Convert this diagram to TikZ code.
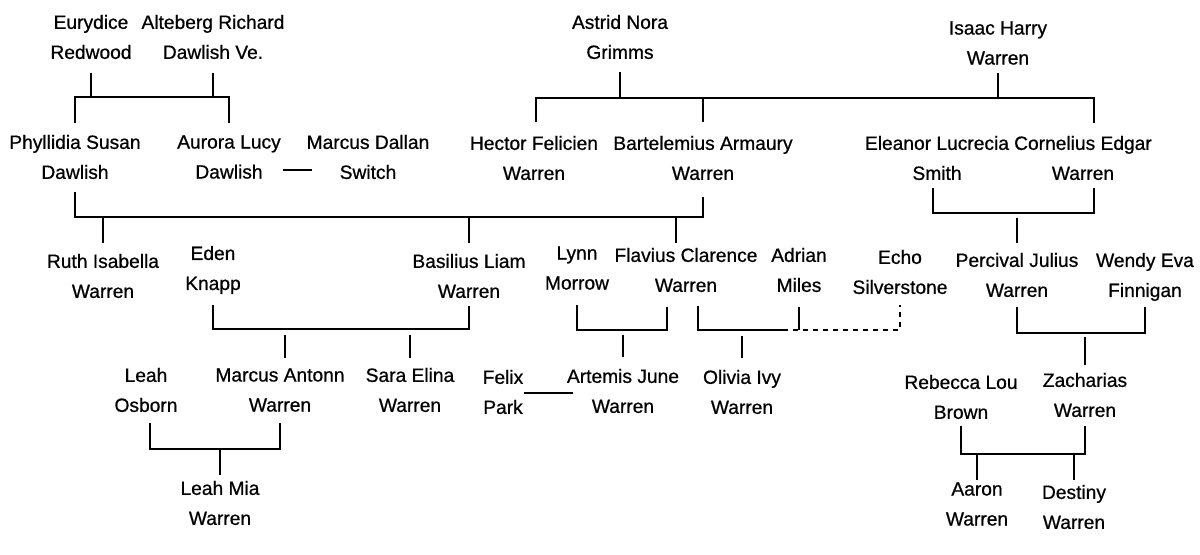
\documentclass[tikz,border=0pt]{standalone}
\usepackage{fontspec}
\setmainfont{Liberation Sans}
\newfontfamily\kidfont{Liberation Sans}[FakeBold=0.7]
\usetikzlibrary{calc}
\begin{document}
\begin{tikzpicture}[x=0.5pt,y=-0.5pt,
  person/.style={align=center,inner sep=0pt,font=\kidfont\fontsize{9.6}{15}\selectfont},
  ln/.style={line width=1pt},
  dsh/.style={line width=1pt,dash pattern=on 2.5pt off 2.5pt}]
\useasboundingbox[fill=white] (0,0) rectangle (1200,555);
% generation 0
\node[person] (eur) at (91,37) {Eurydice\\Redwood};
\node[person] (alt) at (213,37) {Alteberg Richard\\Dawlish Ve.};
\node[person] (ast) at (620,37) {Astrid Nora\\Grimms};
\node[person] (isa) at (998,43) {Isaac Harry\\Warren};
% generation 1
\node[person] (phy) at (75,157) {Phyllidia Susan\\Dawlish};
\node[person] (aur) at (229,157) {Aurora Lucy\\Dawlish};
\node[person] (mar) at (368,157) {Marcus Dallan\\Switch};
\node[person] (hec) at (534,158) {Hector Felicien\\Warren};
\node[person] (bar) at (703,158) {Bartelemius Armaury\\Warren};
\node[person] (ele) at (937,158) {Eleanor Lucrecia\\Smith};
\node[person] (cor) at (1083,158) {Cornelius Edgar\\Warren};
% generation 2
\node[person] (rut) at (103,276) {Ruth Isabella\\Warren};
\node[person] (ede) at (213,270) {Eden\\Knapp};
\node[person] (bas) at (469,276) {Basilius Liam\\Warren};
\node[person] (lyn) at (577,268) {Lynn\\Morrow};
\node[person] (fla) at (686,270) {Flavius Clarence\\Warren};
\node[person] (adr) at (799,270) {Adrian\\Miles};
\node[person] (ech) at (900,272) {Echo\\Silverstone};
\node[person] (per) at (1017,275) {Percival Julius\\Warren};
\node[person] (wen) at (1145,277) {Wendy Eva\\Finnigan};
% generation 3
\node[person] (lea) at (146,390) {Leah\\Osborn};
\node[person] (mca) at (280,390) {Marcus Antonn\\Warren};
\node[person] (sar) at (410,390) {Sara Elina\\Warren};
\node[person] (fel) at (503,392) {Felix\\Park};
\node[person] (art) at (623,391) {Artemis June\\Warren};
\node[person] (oli) at (742,392) {Olivia Ivy\\Warren};
\node[person] (reb) at (961,397) {Rebecca Lou\\Brown};
\node[person] (zac) at (1085,395) {Zacharias\\Warren};
% generation 4
\node[person] (lmi) at (220,503) {Leah Mia\\Warren};
\node[person] (aar) at (977,504) {Aaron\\Warren};
\node[person] (des) at (1074,507) {Destiny\\Warren};
% offset drop points
\coordinate (corD) at ($(cor)+(11,0)$);
\coordinate (flaT) at ($(fla)+(-10,0)$);
\coordinate (flaL) at ($(fla)+(-19,0)$);
\coordinate (flaR) at ($(fla)+(12,0)$);
\coordinate (mcaT) at ($(mca)+(5,0)$);
\coordinate (leaD) at ($(lea)+(4,0)$);
\coordinate (hecD) at ($(hec)+(2,0)$);
\coordinate (eleD) at ($(ele)+(-4,0)$);
\coordinate (marL) at ($(mar.west)+(6,0)$);
\coordinate (dashEnd) at (783,330);
% Eurydice + Alteberg
\draw[ln] (phy |- 0,123) -- (phy |- 0,97) -- (aur |- 0,97) -- (aur |- 0,123);
\draw[ln] (eur |- 0,73) -- (eur |- 0,97);
\draw[ln] (alt |- 0,73) -- (alt |- 0,97);
% Aurora -- Marcus
\draw[ln] (283,170) -- (marL |- 0,170);
% Astrid + Isaac
\draw[ln] (hecD |- 0,122) -- (hecD |- 0,98) -- (corD |- 0,98) -- (corD |- 0,123);
\draw[ln] (ast |- 0,72) -- (ast |- 0,98);
\draw[ln] (isa |- 0,73) -- (isa |- 0,98);
\draw[ln] (bar |- 0,98) -- (bar |- 0,122);
% Phyllidia + Bartelemius
\draw[ln] (phy |- 0,192) -- (phy |- 0,217) -- (bar |- 0,217) -- (bar |- 0,197);
\draw[ln] (rut |- 0,217) -- (rut |- 0,243);
\draw[ln] (bas |- 0,217) -- (bas |- 0,243);
\draw[ln] (flaT |- 0,217) -- (flaT |- 0,243);
% Eleanor + Cornelius
\draw[ln] (eleD |- 0,188) -- (eleD |- 0,213) -- (corD |- 0,213) -- (corD |- 0,188);
\draw[ln] (per |- 0,218) -- (per |- 0,243);
% Eden + Basilius
\draw[ln] (ede |- 0,305) -- (ede |- 0,329) -- (bas |- 0,329) -- (bas |- 0,306);
\draw[ln] (mcaT |- 0,335) -- (mcaT |- 0,358);
\draw[ln] (sar |- 0,335) -- (sar |- 0,358);
% Lynn + Flavius
\draw[ln] (lyn |- 0,305) -- (lyn |- 0,330) -- (flaL |- 0,330) -- (flaL |- 0,307);
\draw[ln] (art |- 0,335) -- (art |- 0,357);
% Flavius + Adrian, Echo (dashed)
\draw[ln] (flaR |- 0,306) -- (flaR |- 0,330) -- (dashEnd);
\draw[ln] (adr |- 0,307) -- (adr |- 0,330);
\draw[dsh] (dashEnd) -- (ech |- 0,330) -- (ech |- 0,305);
\draw[ln] (oli |- 0,336) -- (oli |- 0,358);
% Percival + Wendy
\draw[ln] (per |- 0,307) -- (per |- 0,333) -- (wen |- 0,333) -- (wen |- 0,307);
\draw[ln] (zac |- 0,337) -- (zac |- 0,365);
% Felix -- Artemis
\draw[ln] (fel.east |- 0,393) -- (573,393);
% Leah + Marcus Antonn
\draw[ln] (leaD |- 0,423) -- (leaD |- 0,449) -- (mca |- 0,449) -- (mca |- 0,423);
\draw[ln] (lmi |- 0,449) -- (lmi |- 0,475);
% Rebecca + Zacharias
\draw[ln] (reb |- 0,426) -- (reb |- 0,454) -- (zac |- 0,454) -- (zac |- 0,426);
\draw[ln] (aar |- 0,454) -- (aar |- 0,480);
\draw[ln] (des |- 0,454) -- (des |- 0,480);
\end{tikzpicture}
\end{document}
